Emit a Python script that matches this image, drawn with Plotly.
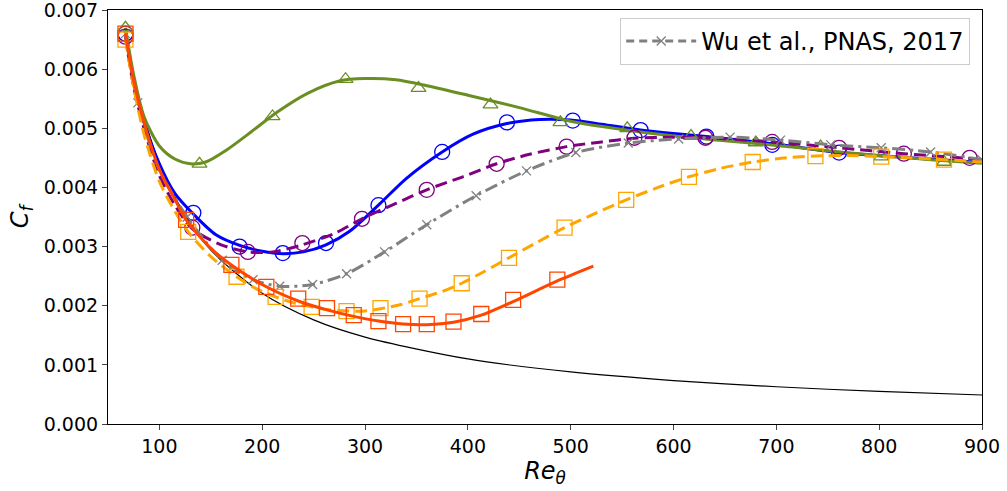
import plotly.graph_objects as go

# ---------------- data ----------------
# Laminar reference (thin black)
re_lam = [67, 75, 85, 100, 120, 150, 200, 250, 300, 400, 500, 600, 700, 800, 900]
cf_lam = [0.00658, 0.00588, 0.00519, 0.00441, 0.00368, 0.00294, 0.00221, 0.00176,
          0.00147, 0.00110, 0.00088, 0.000735, 0.00063, 0.00055, 0.00049]

# Green (triangles)
re_g = [67, 75, 85, 100, 115, 130, 145, 165, 190, 215, 245, 275, 300, 330, 360, 400,
        450, 500, 550, 600, 650, 700, 750, 800, 850, 900]
cf_g = [0.0067, 0.0059, 0.0052, 0.0047, 0.00448, 0.0044, 0.00443, 0.00463, 0.00495,
        0.00528, 0.0056, 0.0058, 0.00584, 0.00582, 0.00572, 0.00556, 0.00535, 0.00512,
        0.00498, 0.00487, 0.00479, 0.00471, 0.00462, 0.00454, 0.00447, 0.00441]
re_g_m = [67, 139, 210, 281, 352, 422, 490, 555, 617, 680, 743, 802, 863]
cf_g_m = [0.0067, 0.0044, 0.0052, 0.00583, 0.00568, 0.0054, 0.0051, 0.0050, 0.00487,
          0.00476, 0.00469, 0.00452, 0.00443]

# Blue (circles)
re_b = [67, 75, 85, 100, 115, 133, 155, 178, 200, 220, 240, 262, 285, 313, 340, 375,
        405, 438, 470, 500, 530, 568, 600, 632, 700, 761, 830, 900]
cf_b = [0.0066, 0.0058, 0.0051, 0.0044, 0.0039, 0.00355, 0.0032, 0.00302, 0.00292,
        0.00288, 0.00291, 0.00303, 0.00326, 0.0037, 0.00415, 0.0046, 0.0049, 0.00508,
        0.00515, 0.00514, 0.00507, 0.00497, 0.00491, 0.00486, 0.00473, 0.00459, 0.0045,
        0.00442]
re_b_m = [67, 133, 178, 220, 262, 313, 375, 438, 502, 568, 632, 696, 761]
cf_b_m = [0.0066, 0.00357, 0.0030, 0.00289, 0.00306, 0.0037, 0.0046, 0.0051, 0.00513,
          0.00497, 0.00486, 0.00472, 0.00459]

# Purple dashed (circles)
re_p = [67, 75, 85, 100, 115, 132, 160, 186, 210, 239, 270, 297, 330, 360, 395, 428,
        460, 496, 530, 562, 600, 631, 696, 761, 824, 888, 900]
cf_p = [0.00655, 0.0057, 0.0050, 0.0042, 0.0037, 0.0033, 0.00303, 0.00291, 0.00291,
        0.00303, 0.00322, 0.00347, 0.00373, 0.00396, 0.00418, 0.0044, 0.00456, 0.00469,
        0.00477, 0.00483, 0.00485, 0.00484, 0.00477, 0.00467, 0.00457, 0.00449, 0.00447]
re_p_m = [67, 132, 186, 239, 297, 360, 428, 496, 562, 631, 696, 761, 824, 888]
cf_p_m = [0.00655, 0.00332, 0.00291, 0.00306, 0.00347, 0.00396, 0.0044, 0.00469,
          0.00484, 0.00484, 0.00477, 0.00467, 0.00457, 0.0045]

# Wu et al., PNAS, 2017 (gray dash-dot, x markers)
re_w = [67, 79, 100, 127, 161, 191, 217, 249, 282, 319, 360, 408, 457, 505, 556, 605,
        655, 704, 753, 802, 850, 900]
cf_w = [0.0066, 0.00543, 0.0043, 0.0035, 0.00277, 0.00244, 0.00233, 0.00236, 0.00254,
        0.00291, 0.00337, 0.00386, 0.00428, 0.00459, 0.00475, 0.00482, 0.00485, 0.0048,
        0.00472, 0.00467, 0.0046, 0.00447]
re_w_m = [67, 79, 127, 161, 191, 217, 249, 282, 319, 360, 408, 457, 505, 556, 605, 655,
          704, 753, 802, 850, 900]
cf_w_m = [0.0066, 0.00543, 0.0035, 0.00277, 0.00244, 0.00233, 0.00236, 0.00254, 0.00291,
          0.00337, 0.00386, 0.00428, 0.00459, 0.00475, 0.00482, 0.00485, 0.0048, 0.00472,
          0.00467, 0.0046, 0.00447]

# Orange dashed (squares)
re_o = [67, 75, 85, 100, 115, 128, 150, 175, 195, 213, 230, 248, 265, 282, 300, 315,
        335, 353, 375, 394, 415, 440, 465, 494, 525, 554, 585, 615, 645, 677, 710, 738,
        770, 802, 830, 863, 900]
cf_o = [0.0065, 0.0057, 0.0049, 0.0041, 0.0036, 0.00325, 0.00283, 0.00249, 0.00228,
        0.00215, 0.00205, 0.00198, 0.00193, 0.00191, 0.00191, 0.00195, 0.00202, 0.00212,
        0.00224, 0.00238, 0.00257, 0.00281, 0.00305, 0.00332, 0.00357, 0.00379, 0.0040,
        0.00418, 0.00432, 0.00443, 0.0045, 0.00453, 0.00454, 0.00452, 0.0045, 0.00447,
        0.00443]
re_o_m = [67, 128, 175, 213, 248, 282, 315, 353, 394, 440, 494, 554, 615, 677, 738, 802, 863]
cf_o_m = [0.0065, 0.00325, 0.00249, 0.00215, 0.00198, 0.00191, 0.00196, 0.00212, 0.00238,
          0.00281, 0.00332, 0.00379, 0.00418, 0.00443, 0.00453, 0.00452, 0.00447]

# Orange-red solid (squares)
re_r = [67, 75, 85, 100, 115, 126, 150, 170, 204, 235, 263, 289, 313, 337, 360, 386,
        413, 444, 487, 522]
cf_r = [0.0066, 0.0058, 0.0051, 0.0043, 0.0038, 0.00345, 0.00297, 0.00269, 0.00232,
        0.00208, 0.00193, 0.00182, 0.00174, 0.00169, 0.00168, 0.00172, 0.00184, 0.00207,
        0.00242, 0.00267]
re_r_m = [67, 126, 170, 204, 235, 263, 289, 313, 337, 360, 386, 413, 444, 487]
cf_r_m = [0.0066, 0.00345, 0.00269, 0.00232, 0.00212, 0.00196, 0.00184, 0.00174, 0.00169,
          0.00169, 0.00173, 0.00186, 0.0021, 0.00244]

x_ticks = [100, 200, 300, 400, 500, 600, 700, 800, 900]
y_ticks = [0.000, 0.001, 0.002, 0.003, 0.004, 0.005, 0.006, 0.007]
y_tick_text = ["0.000", "0.001", "0.002", "0.003", "0.004", "0.005", "0.006", "0.007"]

# ---------------- figure ----------------
FONT = "DejaVu Sans"
fig = go.Figure()

def add_line(x, y, color, width, dash="solid"):
    fig.add_trace(go.Scatter(x=x, y=y, mode="lines", showlegend=False,
                             line=dict(color=color, width=width, dash=dash,
                                       shape="spline", smoothing=0.8),
                             hoverinfo="skip"))

def add_markers(x, y, color, symbol, size):
    fig.add_trace(go.Scatter(x=x, y=y, mode="markers", showlegend=False,
                             marker=dict(symbol=symbol, size=size, color=color,
                                         line=dict(color=color, width=1.3))))

add_line(re_lam, cf_lam, "black", 1.2)

add_line(re_b, cf_b, "#0000ff", 3)
add_markers(re_b_m, cf_b_m, "#0000ff", "circle-open", 15)

add_line(re_g, cf_g, "#6b8e23", 3)
add_markers(re_g_m, cf_g_m, "#6b8e23", "triangle-up-open", 13)

add_line(re_p, cf_p, "#800080", 3, "12px,6px")
add_markers(re_p_m, cf_p_m, "#800080", "circle-open", 15)

add_line(re_w, cf_w, "#808080", 3, "13px,5px,3px,5px")
add_markers(re_w_m, cf_w_m, "#808080", "x-thin-open", 9)

add_line(re_o, cf_o, "#ffa500", 3, "12px,6px")
add_markers(re_o_m, cf_o_m, "#ffa500", "square-open", 15)

add_line(re_r, cf_r, "#ff4500", 3)
add_markers(re_r_m, cf_r_m, "#ff4500", "square-open", 15)

# legend entry for Wu et al.
fig.add_trace(go.Scatter(x=[None], y=[None], mode="lines+markers",
                         name="Wu et al., PNAS, 2017",
                         line=dict(color="#808080", width=3, dash="8px,5px"),
                         marker=dict(symbol="x-thin-open", size=9, color="#808080",
                                     line=dict(color="#808080", width=1.3))))

fig.update_layout(
    width=1007, height=491,
    margin=dict(l=108, r=25, t=10, b=67, autoexpand=False),
    plot_bgcolor="white", paper_bgcolor="white",
    font=dict(family=FONT, size=19, color="black"),
    showlegend=True,
    legend=dict(x=0.9865, y=0.981, xanchor="right", yanchor="top",
                bgcolor="rgba(255,255,255,0.8)", bordercolor="#cccccc", borderwidth=1,
                font=dict(family=FONT, size=24), itemwidth=70),
)
fig.update_xaxes(range=[50, 900], tickvals=x_ticks, ticks="outside", ticklen=5,
                 showline=True, linecolor="black", linewidth=1.2, mirror=True,
                 showgrid=False, zeroline=False, automargin=False,
                 ticklabeloverflow="allow",
                 tickfont=dict(family=FONT, size=19),
                 title=dict(text="<i>Re<sub>θ</sub></i>", font=dict(family=FONT, size=24),
                            standoff=2))
fig.update_yaxes(range=[0, 0.0070001], tickvals=y_ticks, ticktext=y_tick_text,
                 ticks="outside", ticklen=5, showline=True, linecolor="black",
                 linewidth=1.2, mirror=True, showgrid=False, zeroline=False,
                 automargin=False, ticklabeloverflow="allow",
                 tickfont=dict(family=FONT, size=19),
                 title=dict(text="<i>C<sub>f</sub></i>", font=dict(family=FONT, size=24),
                            standoff=8))

fig.write_html("out.html", config={"displayModeBar": False},
               post_script="document.body.style.margin='0';document.body.style.padding='0';")
